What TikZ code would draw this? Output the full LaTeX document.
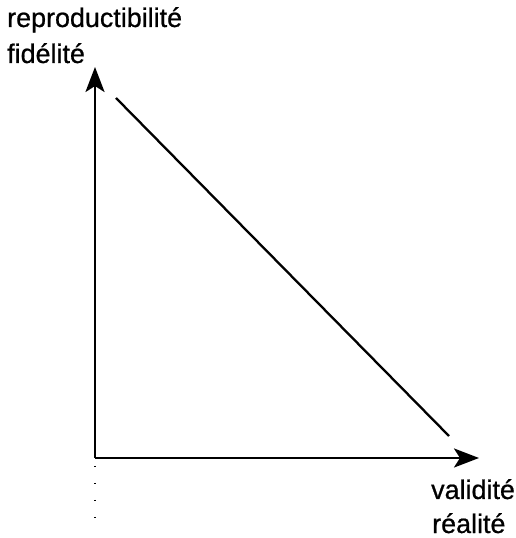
\documentclass[tikz,border=0pt]{standalone}
\usepackage{fontspec}
\setmainfont{Liberation Sans}
\newfontfamily\lblfont[FakeBold=0.7]{Liberation Sans}
\usetikzlibrary{arrows.meta}
\begin{document}
\begin{tikzpicture}[x=1pt,y=1pt,
  axis/.style={line width=2.8pt,-{Stealth[length=25pt,width=19pt,inset=6pt]}},
  diag/.style={line width=2.3pt},
  dots/.style={line width=1.2pt,dash pattern=on 1.5pt off 15.5pt},
  lbl/.style={inner sep=0pt,anchor=base west,font=\lblfont\fontsize{26.9}{32}\selectfont}]
\useasboundingbox (0,0) rectangle (516,538);
\coordinate (O) at (95,80);
\coordinate (ytip) at (95,471);
\coordinate (xtip) at (479,80);
\coordinate (d1) at (116,440);
\coordinate (d2) at (449,102);
\coordinate (p1) at (95,72);
\coordinate (p2) at (95,20);
\draw[axis] (O) -- (ytip);
\draw[axis] (O) -- (xtip);
\draw[diag] (d1) -- (d2);
\draw[dots] (p1) -- (p2);
\node[lbl] (t1) at (7,511) {reproductibilité};
\node[lbl] (t2) at (7,475) {fidélité};
\node[lbl] (t3) at (431,39) {validité};
\node[lbl] (t4) at (432,5) {réalité};
\end{tikzpicture}
\end{document}
